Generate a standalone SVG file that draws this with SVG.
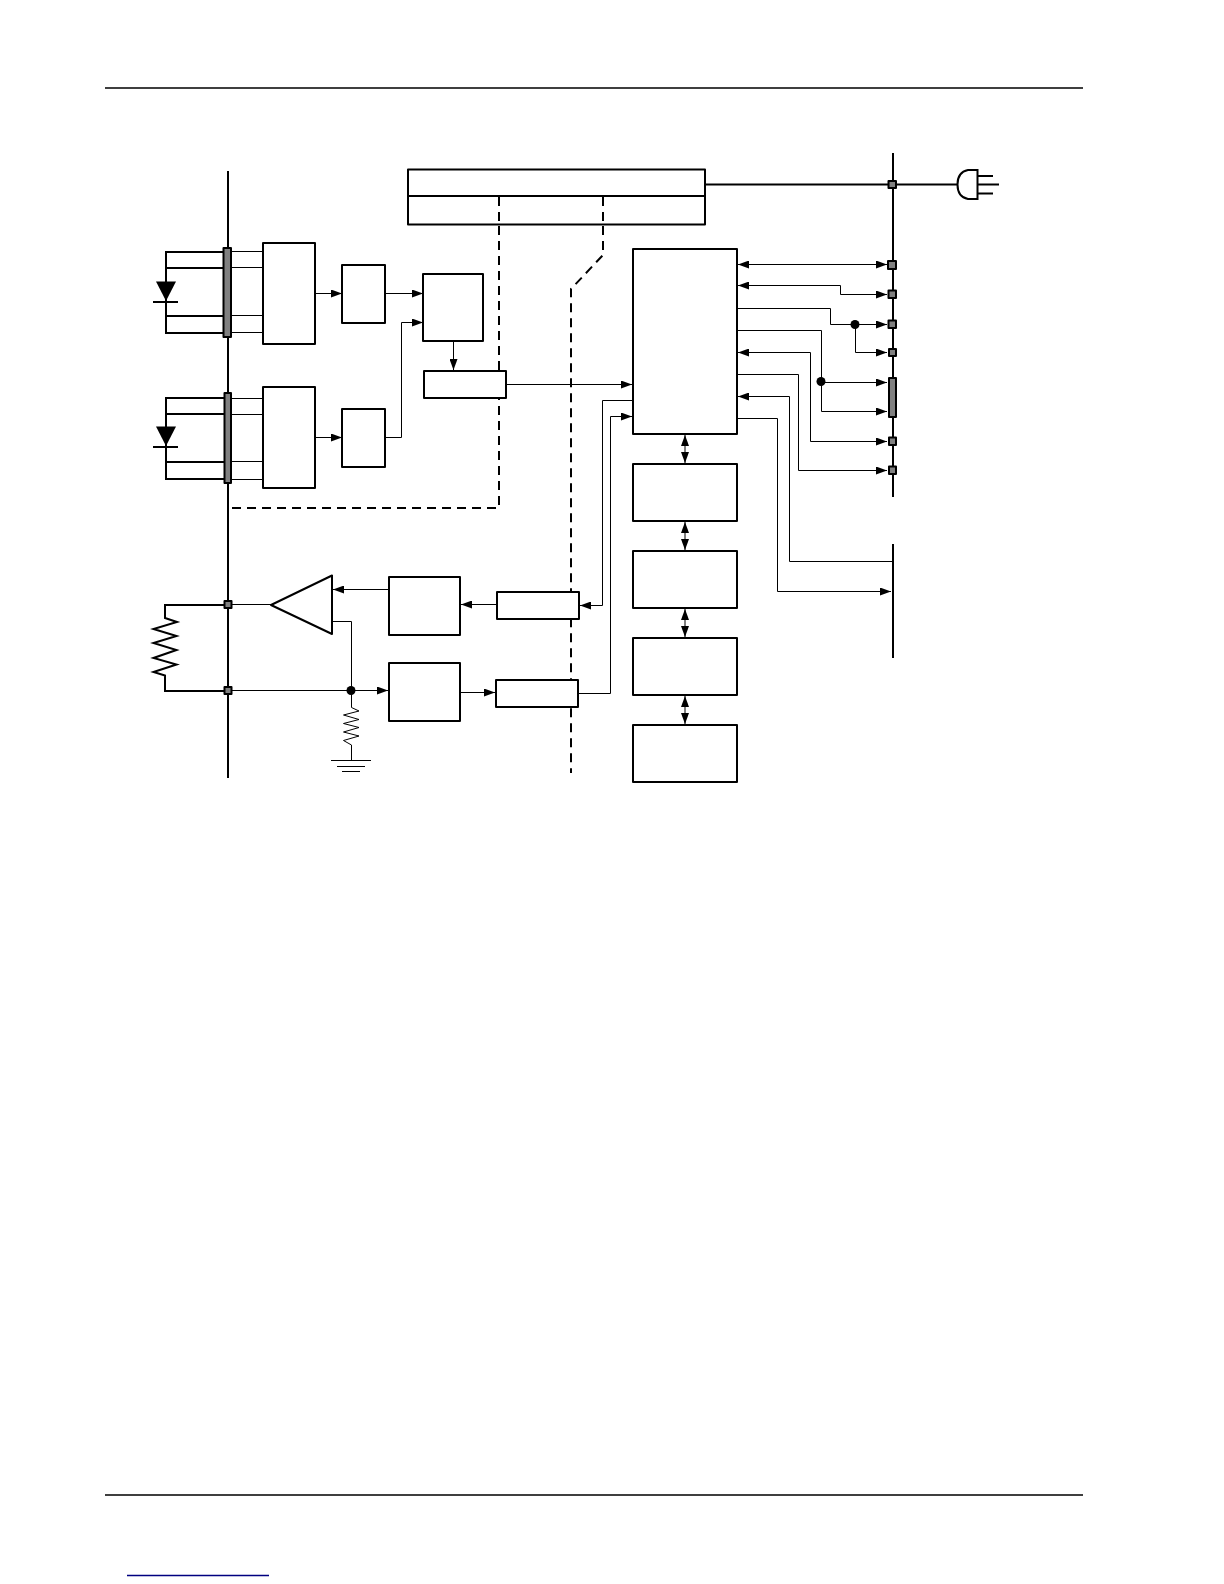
<svg xmlns="http://www.w3.org/2000/svg" width="1224" height="1584" viewBox="0 0 1224 1584">
<style>
.box{fill:#fff;stroke:#000;stroke-width:2;stroke-linejoin:round}
.t{fill:none;stroke:#000;stroke-width:1}
.m{fill:none;stroke:#000;stroke-width:2}
.r{fill:none;stroke:#000;stroke-width:1.300}
.d{fill:none;stroke:#000;stroke-width:2;stroke-dasharray:9 6}
.pin{fill:#808080;stroke:#000;stroke-width:2;stroke-linejoin:round}
.a{marker-end:url(#ah)}
.aa{marker-end:url(#ah);marker-start:url(#ah)}
</style>
<defs>
<marker id="ah" viewBox="0 0 11 8" refX="11" refY="4" markerWidth="11" markerHeight="8" markerUnits="userSpaceOnUse" orient="auto-start-reverse"><path d="M0 0L11 4L0 8Z" fill="#000"/></marker>
</defs>
<rect width="1224" height="1584" fill="#fff"/>
<g id="page-rules">
<path class="r" d="M105 88H1083M105 1495H1083"/>
<path d="M127 1575.500H269" fill="none" stroke="#000080" stroke-width="1.300"/>
</g>
<g id="connectors">
<path class="m" d="M228 171V778"/>
<path class="m" d="M893 153V497"/>
<path class="m" d="M893 544V658"/>
<path class="d" d="M499 196V508H228"/>
<path class="d" d="M603 196V255L571 289V773"/>
<path class="m" d="M705 184.500H957"/>
<path class="t" d="M231 251.500H263M231 267.500H263M231 315.500H263M231 332.500H263M231 398.500H263M231 414.500H263M231 461.500H263M231 479.500H263"/>
<path class="t a" d="M315 293.500H342"/>
<path class="t a" d="M385 293.500H423"/>
<path class="t a" d="M315 437.500H342"/>
<path class="t a" d="M385 437.500H401.500V322.500H423"/>
<path class="t a" d="M453.500 341V370"/>
<path class="t a" d="M506 384.500H632"/>
<path class="t a" d="M633 400.500H602.500V605.500H580"/>
<path class="t a" d="M578 693.500H610.500V416.500H632"/>
<path class="t aa" d="M738 264.500H887"/>
<path class="t aa" d="M738 285.500H840.500V294.500H887"/>
<path class="t a" d="M737 308.500H830.500V324.500H887"/>
<path class="t a" d="M855.500 324.500V352.500H887"/>
<path class="t a" d="M737 330.500H821.500V411.500H887"/>
<path class="t a" d="M821 382.500H887"/>
<path class="t aa" d="M887 441.500H810.500V352.500H738"/>
<path class="t a" d="M737 374.500H798.500V470.500H887"/>
<path class="t a" d="M892 561.500H789.500V396.500H738"/>
<path class="t a" d="M737 418.500H777.500V591.500H891"/>
<path class="t aa" d="M685 435V463"/>
<path class="t aa" d="M685 522V550"/>
<path class="t aa" d="M685 609V637"/>
<path class="t aa" d="M685 696V724"/>
<path class="t" d="M231 604.500H271"/>
<path class="t a" d="M231 690.500H388"/>
<path class="t a" d="M389 589.500H333"/>
<path class="t a" d="M497 604.500H461"/>
<path class="t a" d="M460 692.500H495"/>
<path class="t" d="M332 621.500H351.500V690"/>
<path class="t" d="M351.500 690V707.500L359 711 343.500 715 359 719.500 343.500 723.500 359 727.500 343.500 732 359 736 343.500 740.500 351.500 745V760"/>
<path class="m" d="M224 605H165V618L177 622 153.500 629 176.500 636 153.500 643 176.500 650 153.500 658 176.500 664.500 153.500 672 165 675.500V691H224"/>
</g>
<g id="diode-1">
<path class="m" d="M223 252H166V333H223M166 268H223M166 316H223"/>
<path d="M156 281.500H176L166 301Z" fill="#000"/>
<path class="m" d="M153 302H178"/>
</g>
<g id="diode-2">
<path class="m" d="M224 398H166V479H224M166 414H224M166 462H224"/>
<path d="M156 426.500H176L166 446Z" fill="#000"/>
<path class="m" d="M153 447H178"/>
</g>
<g id="ground"><path class="t" d="M331 760.500H371M337 766.500H365M342 771.500H360"/></g>
<g id="top-block"><rect class="box" x="408" y="169.500" width="297" height="55"/><path class="m" d="M408 196H705"/>
<path class="d" d="M499 197V224M603 197V224"/></g>
<g id="box-a"><rect class="box" x="263" y="243" width="52" height="101"/></g>
<g id="box-b"><rect class="box" x="263" y="387" width="52" height="101"/></g>
<g id="box-c"><rect class="box" x="342" y="265" width="43" height="58"/></g>
<g id="box-d"><rect class="box" x="342" y="409" width="43" height="58"/></g>
<g id="box-e"><rect class="box" x="423" y="274" width="60" height="67"/></g>
<g id="box-f"><rect class="box" x="424" y="371" width="82" height="27"/></g>
<g id="box-main"><rect class="box" x="633" y="249" width="104" height="185"/></g>
<g id="box-m1"><rect class="box" x="633" y="464" width="104" height="57"/></g>
<g id="box-m2"><rect class="box" x="633" y="551" width="104" height="57"/></g>
<g id="box-m3"><rect class="box" x="633" y="638" width="104" height="57"/></g>
<g id="box-m4"><rect class="box" x="633" y="725" width="104" height="57"/></g>
<g id="box-g"><rect class="box" x="389" y="577" width="71" height="58"/></g>
<g id="box-h"><rect class="box" x="389" y="663" width="71" height="58"/></g>
<g id="box-i"><rect class="box" x="497" y="592" width="82" height="27"/></g>
<g id="box-j"><rect class="box" x="496" y="680" width="82" height="27"/></g>
<g id="amp"><path class="box" d="M271 605L332 575.500V634Z"/></g>
<g id="dots"><circle cx="351" cy="690.500" r="4.500"/><circle cx="855" cy="324.500" r="4.500"/><circle cx="821" cy="381.500" r="4.500"/></g>
<g id="pins-left">
<rect class="pin" x="223.500" y="248" width="7.500" height="89"/>
<rect class="pin" x="224.500" y="393" width="6.500" height="90"/>
<rect class="pin" x="224.500" y="601" width="7" height="7"/>
<rect class="pin" x="224.500" y="687" width="7" height="7"/>
</g>
<g id="pins-right">
<rect class="pin" x="888.500" y="181" width="7.500" height="7"/>
<rect class="pin" x="888" y="261" width="8" height="8"/>
<rect class="pin" x="888.500" y="290.500" width="7.500" height="7.500"/>
<rect class="pin" x="888.500" y="320.500" width="7.500" height="7.500"/>
<rect class="pin" x="889" y="349" width="7" height="7"/>
<rect class="pin" x="889" y="378" width="7" height="39"/>
<rect class="pin" x="889" y="437.500" width="7" height="7.500"/>
<rect class="pin" x="889" y="466.500" width="7" height="7.500"/>
</g>
<g id="plug">
<path class="m" d="M977.500 170H968Q957.500 172 957.500 184.500Q957.500 197 968 199H977.500Z"/>
<path class="m" d="M977.500 176H993M977.500 184.500H999M977.500 193.500H993"/>
</g>
</svg>
